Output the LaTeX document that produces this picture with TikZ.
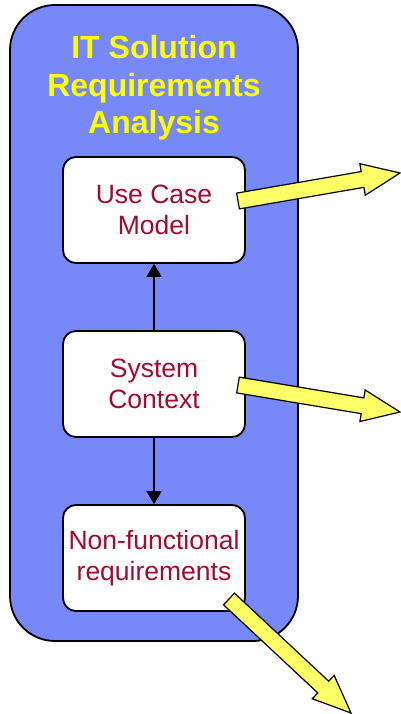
\documentclass[tikz,border=0pt]{standalone}
\usepackage{fontspec}
\setmainfont{Liberation Sans}
\usetikzlibrary{calc,arrows.meta}

\definecolor{panelblue}{RGB}{119,136,248}
\definecolor{titleyellow}{RGB}{255,255,0}
\definecolor{arrowyellow}{RGB}{255,255,102}
\definecolor{textred}{RGB}{165,10,45}

\tikzset{
  panel/.style={draw=black, line width=1.8pt, fill=panelblue, rounded corners=45pt},
  stepbox/.style={draw=black, line width=1.8pt, fill=white, rounded corners=13pt,
    minimum width=182pt, minimum height=106pt, align=center,
    font=\fontsize{26.5pt}{31pt}\selectfont, text=textred, inner sep=0pt},
  titletext/.style={font=\fontsize{32pt}{37.5pt}\selectfont\bfseries, text=titleyellow, align=center},
  link/.style={line width=1.8pt, -{Triangle[length=13pt,width=15pt]}},
  blockarrow/.style={draw=black, line width=1.2pt, fill=arrowyellow, line join=miter}
}

% block arrow from tail #1 to tip #2
\newcommand{\blockarrowdraw}[2]{%
  \path ($(#2)!38pt!(#1)$) coordinate (hb);
  \draw[blockarrow]
    ($(#1)!8pt!90:(#2)$) -- ($(hb)!8pt!-90:(#1)$) -- ($(hb)!16pt!-90:(#1)$)
    -- (#2)
    -- ($(hb)!16pt!90:(#1)$) -- ($(hb)!8pt!90:(#1)$) -- ($(#1)!8pt!-90:(#2)$) -- cycle;
}

\begin{document}
\begin{tikzpicture}[x=1pt,y=-1pt]
  \useasboundingbox (0,0) rectangle (401,714);

  % outer panel
  \draw[panel] (10,5) rectangle (298,641);
  \node[titletext] (title) at (154,88) {IT Solution\\Requirements\\Analysis};

  % the three work products
  \node[stepbox] (usecase) at (154,210) {Use Case\\Model};
  \node[stepbox] (context) at (154,384) {System\\Context};
  \node[stepbox] (nonfunc) at (154,558) {Non-functional\\requirements};

  \draw[link] (context) -- (usecase);
  \draw[link] (context) -- (nonfunc);

  % outgoing block arrows
  \coordinate (t1) at (238,201);  \coordinate (h1) at (400,173);
  \coordinate (t2) at (238,385);  \coordinate (h2) at (400,412);
  \coordinate (t3) at (229,599);  \coordinate (h3) at (351,713);
  \blockarrowdraw{t1}{h1}
  \blockarrowdraw{t2}{h2}
  \blockarrowdraw{t3}{h3}
\end{tikzpicture}
\end{document}
